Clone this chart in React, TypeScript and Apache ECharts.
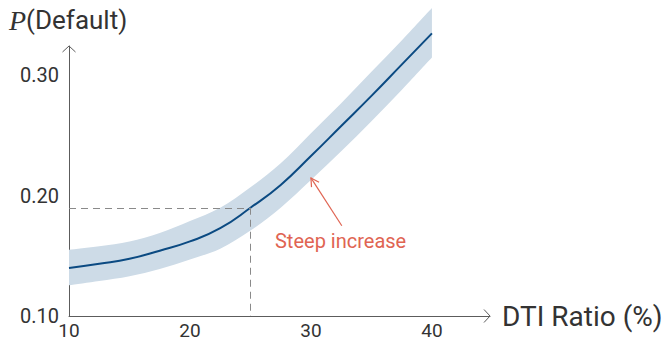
import React, { useEffect, useRef } from "react";
import * as echarts from "echarts";

// ---- data ----
const dtiValues = [10, 12.5, 15, 17.5, 20, 22.5, 25, 27.5, 30, 32.5, 35, 37.5, 40];
const pDefault = [0.14, 0.1435, 0.1476, 0.1543, 0.162, 0.173, 0.19, 0.209, 0.233, 0.258, 0.283, 0.309, 0.335];
const bandUpper = [0.155, 0.158, 0.162, 0.169, 0.179, 0.19, 0.207, 0.227, 0.252, 0.277, 0.303, 0.329, 0.356];
const bandLower = [0.1255, 0.129, 0.133, 0.139, 0.147, 0.156, 0.171, 0.19, 0.213, 0.237, 0.262, 0.288, 0.315];
const yTickValues = [0.1, 0.2, 0.3];
const xTickValues = [10, 20, 30, 40];
const refPoint = [25, 0.19];
const annotationText = "Steep increase";
const annotationTail = [32.55, 0.175];
const annotationTip = [30.0, 0.2148];
const annotationLabelPos = [32.45, 0.162];
const X_MIN = 10;
const X_MAX = 44.8;
const Y_MIN = 0.1;
const Y_MAX = 0.3245;

const FONT = "Roboto, 'DejaVu Sans', sans-serif";
const AXIS_COLOR = "#5c5c5c";
const LINE_COLOR = "#0b4a82";
const BAND_COLOR = "#cddbe7";
const RED = "#e06452";

// Catmull-Rom spline through pixel points -> SVG cubic segments
function splineSegments(pts: number[][]): string {
  let d = "";
  const n = pts.length;
  for (let i = 0; i < n - 1; i++) {
    const p0 = pts[Math.max(i - 1, 0)];
    const p1 = pts[i];
    const p2 = pts[i + 1];
    const p3 = pts[Math.min(i + 2, n - 1)];
    const c1x = p1[0] + (p2[0] - p0[0]) / 6;
    const c1y = p1[1] + (p2[1] - p0[1]) / 6;
    const c2x = p2[0] - (p3[0] - p1[0]) / 6;
    const c2y = p2[1] - (p3[1] - p1[1]) / 6;
    d += ` C${c1x},${c1y} ${c2x},${c2y} ${p2[0]},${p2[1]}`;
  }
  return d;
}

export default function App() {
  const ref = useRef<HTMLDivElement>(null);

  useEffect(() => {
    if (!ref.current) return;
    const chart = echarts.init(ref.current, null, { renderer: "svg" });

    const midData = dtiValues.map((x, i) => [x, pDefault[i]]);

    chart.setOption({
      animation: false,
      grid: { left: 69, right: 176, top: 46, bottom: 26, containLabel: false },
      xAxis: {
        type: "value",
        min: X_MIN,
        max: X_MAX,
        interval: 10,
        axisLine: { show: true, lineStyle: { color: AXIS_COLOR, width: 1 } },
        axisTick: { show: false },
        splitLine: { show: false },
        axisLabel: {
          margin: 6,
          fontSize: 19,
          lineHeight: 16,
          fontFamily: FONT,
          color: "#333",
          showMaxLabel: false,
          formatter: (v: number) => (xTickValues.includes(v) ? String(v) : ""),
        },
      },
      yAxis: {
        type: "value",
        min: Y_MIN,
        max: Y_MAX,
        interval: 0.1,
        axisLine: { show: true, lineStyle: { color: AXIS_COLOR, width: 1 } },
        axisTick: { show: false },
        splitLine: { show: false },
        axisLabel: {
          margin: 10,
          fontSize: 20,
          fontFamily: FONT,
          color: "#333",
          showMaxLabel: false,
          formatter: (v: number) =>
            yTickValues.some((t) => Math.abs(t - v) < 1e-9) ? v.toFixed(2) : "",
        },
      },
      series: [
        {
          type: "custom",
          name: "band",
          silent: true,
          clip: false,
          z: 1,
          data: [[dtiValues[0], bandLower[0]]],
          encode: { x: 0, y: 1 },
          renderItem: (_params: any, api: any) => {
            const up = dtiValues.map((x, i) => api.coord([x, bandUpper[i]]));
            const lo = dtiValues.map((x, i) => api.coord([x, bandLower[i]])).reverse();
            const d =
              `M${up[0][0]},${up[0][1]}` +
              splineSegments(up) +
              ` L${lo[0][0]},${lo[0][1]}` +
              splineSegments(lo) +
              " Z";
            return {
              type: "path",
              shape: { pathData: d },
              style: { fill: BAND_COLOR, stroke: "none" },
            };
          },
        },
        {
          type: "line",
          name: "P(Default)",
          data: midData,
          smooth: 0.5,
          symbol: "none",
          clip: false,
          lineStyle: { color: LINE_COLOR, width: 2 },
          z: 3,
          markLine: {
            silent: true,
            symbol: "none",
            label: { show: false },
            lineStyle: { color: "#8a8a8a", type: [7, 5], width: 1 },
            data: [
              [{ coord: [X_MIN, refPoint[1]] }, { coord: [refPoint[0], refPoint[1]] }],
              [{ coord: [refPoint[0], refPoint[1]] }, { coord: [refPoint[0], Y_MIN] }],
            ],
          },
        },
      ],
    });

    const px = (p: number[]) => chart.convertToPixel({ gridIndex: 0 }, p) as number[];
    const origin = px([X_MIN, Y_MIN]);
    const yTop = px([X_MIN, Y_MAX]);
    const xEnd = px([X_MAX, Y_MIN]);
    const tip = px(annotationTip);
    const tail = px(annotationTail);
    const lab = px(annotationLabelPos);
    const dx = tip[0] - tail[0];
    const dy = tip[1] - tail[1];
    const len = Math.hypot(dx, dy);
    const ux = dx / len;
    const uy = dy / len;
    const ah = 8;
    const aw = 4.5;

    chart.setOption({
      graphic: [
        {
          type: "polyline",
          silent: true,
          z: 10,
          shape: {
            points: [
              [origin[0] - 6.5, yTop[1] + 6],
              [origin[0], yTop[1]],
              [origin[0] + 6.5, yTop[1] + 6],
            ],
          },
          style: { stroke: AXIS_COLOR, lineWidth: 1, fill: "none" },
        },
        {
          type: "polyline",
          silent: true,
          z: 10,
          shape: {
            points: [
              [xEnd[0] - 6, origin[1] - 6.5],
              [xEnd[0], origin[1]],
              [xEnd[0] - 6, origin[1] + 6.5],
            ],
          },
          style: { stroke: AXIS_COLOR, lineWidth: 1, fill: "none" },
        },
        {
          type: "line",
          silent: true,
          z: 10,
          shape: { x1: tail[0], y1: tail[1], x2: tip[0], y2: tip[1] },
          style: { stroke: RED, lineWidth: 1.2 },
        },
        {
          type: "polyline",
          silent: true,
          z: 10,
          shape: {
            points: [
              [tip[0] - ah * ux - aw * uy, tip[1] - ah * uy + aw * ux],
              [tip[0], tip[1]],
              [tip[0] - ah * ux + aw * uy, tip[1] - ah * uy - aw * ux],
            ],
          },
          style: { stroke: RED, lineWidth: 1.2, fill: "none" },
        },
        {
          type: "text",
          silent: true,
          z: 10,
          x: lab[0],
          y: lab[1],
          style: {
            text: annotationText,
            fill: RED,
            fontSize: 20,
            fontFamily: FONT,
            align: "center",
            verticalAlign: "middle",
          },
        },
        {
          type: "text",
          silent: true,
          z: 10,
          x: xEnd[0] + 12,
          y: origin[1],
          style: {
            text: "DTI Ratio (%)",
            fill: "#333",
            fontSize: 28,
            fontFamily: FONT,
            align: "left",
            verticalAlign: "middle",
          },
        },
        {
          type: "text",
          silent: true,
          z: 10,
          x: 9,
          y: 20,
          style: {
            text: "{p|P}{d|(Default)}",
            align: "left",
            verticalAlign: "middle",
            rich: {
              p: {
                fontFamily: "'Liberation Serif', 'DejaVu Serif', serif",
                fontStyle: "italic",
                fontSize: 28,
                fill: "#333",
              },
              d: { fontFamily: FONT, fontSize: 26, fill: "#333" },
            },
          },
        },
      ],
    });

    return () => chart.dispose();
  }, []);

  return (
    <div
      ref={ref}
      style={{ position: "fixed", left: 0, top: 0, width: 666, height: 342, background: "#fff" }}
    />
  );
}
